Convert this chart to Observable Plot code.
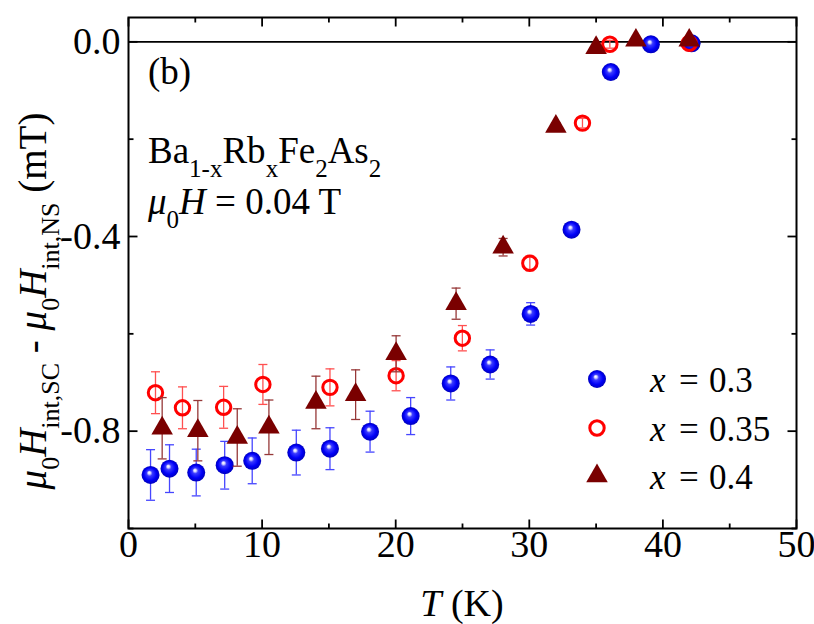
<!DOCTYPE html>
<html><head><meta charset="utf-8">
<script src="https://cdn.jsdelivr.net/npm/d3@7"></script>
<script src="https://cdn.jsdelivr.net/npm/@observablehq/plot@0.6"></script>
<style>body{margin:0;background:#fff} svg{display:block} text{white-space:pre}</style>
</head><body><div id="chart"></div>
<script>
// x = 0.3 (blue spheres)
const T03 = [1.65, 3.07, 5.07, 7.2, 9.26, 12.56, 15.08, 18.08, 21.12, 24.12, 27.07, 30.1, 33.16, 36.1, 39.1, 42.15];
const V03 = [-0.890, -0.877, -0.885, -0.870, -0.861, -0.844, -0.836, -0.801, -0.769, -0.702, -0.663, -0.559, -0.386, -0.062, -0.005, -0.003];
const E03 = [0.052, 0.049, 0.048, 0.049, 0.047, 0.046, 0.043, 0.042, 0.038, 0.034, 0.030, 0.023, 0.009, 0.007, 0.005, 0.005];
// x = 0.35 (red open circles)
const T035 = [2.02, 4.04, 7.12, 10.06, 15.08, 20.03, 24.99, 30.04, 33.98, 36.03, 41.97];
const V035 = [-0.721, -0.752, -0.751, -0.704, -0.710, -0.686, -0.609, -0.455, -0.167, -0.005, -0.003];
const E035 = [0.043, 0.043, 0.043, 0.041, 0.038, 0.031, 0.026, 0.015, 0.010, 0.008, 0.004];
// x = 0.4 (dark red triangles)
const T04 = [2.52, 5.19, 8.14, 10.51, 14.03, 17.0, 20.03, 24.52, 28.04, 31.99, 35.0, 37.98, 41.97];
const V04 = [-0.794, -0.799, -0.813, -0.792, -0.741, -0.725, -0.641, -0.538, -0.422, -0.174, -0.012, 0.003, 0.003];
const E04 = [0.063, 0.062, 0.059, 0.056, 0.054, 0.051, 0.037, 0.032, 0.018, 0.008, 0.006, 0.005, 0.005];

const seriesLabels = ["0.3", "0.35", "0.4"];
const xMajor = [0, 10, 20, 30, 40, 50];
const xTickLabels = ["0", "10", "20", "30", "40", "50"];
const xMinor = [5, 15, 25, 35, 45];
const yMajor = [0, -0.4, -0.8];
const yTickLabels = ["0.0", "-0.4", "-0.8"];
const yMinor = [-0.2, -0.6, -1.0];

const rows = (T, V, E) => T.map((t, i) => ({t, v: V[i], lo: V[i] - E[i], hi: V[i] + E[i]}));
const s03 = rows(T03, V03, E03), s035 = rows(T035, V035, E035), s04 = rows(T04, V04, E04);

const seg = (x1, y1, x2, y2) => ({draw(c) { c.moveTo(x1, y1); c.lineTo(x2, y2); }});
const cap = seg(-4.5, 0, 4.5, 0);
const font = "'Liberation Serif', 'Times New Roman', serif";

function errs(data, color) {
  return [
    Plot.ruleX(data, {x: "t", y1: "lo", y2: "hi", stroke: color, strokeWidth: 1.3}),
    Plot.dot(data, {x: "t", y: "lo", symbol: cap, fill: "none", stroke: color, strokeWidth: 1.3}),
    Plot.dot(data, {x: "t", y: "hi", symbol: cap, fill: "none", stroke: color, strokeWidth: 1.3})
  ];
}
function ticks(vals, axis, anchor, len) {
  const s = anchor === "bottom" ? seg(0, 0, 0, -len) : anchor === "top" ? seg(0, 0, 0, len)
          : anchor === "left" ? seg(0, 0, len, 0) : seg(0, 0, -len, 0);
  const o = {symbol: s, fill: "none", stroke: "black", strokeWidth: 1.8, frameAnchor: anchor};
  if (axis === "x") o.x = d => d; else o.y = d => d;
  return Plot.dot(vals, o);
}

const chart = Plot.plot({
  width: 814, height: 624,
  marginLeft: 128, marginRight: 18, marginTop: 17, marginBottom: 96,
  style: {fontFamily: font, background: "white"},
  x: {domain: [0, 50], axis: null},
  y: {domain: [-1.0, 0.05], axis: null},
  marks: [
    Plot.ruleY([0], {stroke: "black", strokeWidth: 1.6}),
    ...errs(s03, "#4646ff"),
    Plot.dot(s03, {x: "t", y: "v", r: 9, fill: "url(#sphere)", stroke: "none"}),
    ...errs(s035, "#ff5050"),
    Plot.dot(s035, {x: "t", y: "v", r: 7.2, fill: "none", stroke: "#ff0000", strokeWidth: 3}),
    ...errs(s04, "#963838"),
    Plot.dot(s04, {x: "t", y: "v", r: 8, symbol: "triangle", fill: "#7a0000", stroke: "none"}),
    Plot.frame({stroke: "black", strokeWidth: 2}),
    ticks(xMajor, "x", "bottom", 9), ticks(xMinor, "x", "bottom", 5),
    ticks(xMajor, "x", "top", 9), ticks(xMinor, "x", "top", 5),
    ticks(yMajor, "y", "left", 9), ticks(yMinor, "y", "left", 5),
    ticks(yMajor, "y", "right", 9), ticks(yMinor, "y", "right", 5),
    Plot.text(xMajor, {x: d => d, text: (d, i) => xTickLabels[i], frameAnchor: "bottom", dy: 28, fontSize: 38, fill: "black"}),
    Plot.text(yMajor, {y: d => d, text: (d, i) => yTickLabels[i], frameAnchor: "left", textAnchor: "end", dx: -8, fontSize: 38, fill: "black"})
  ]
});
document.getElementById("chart").appendChild(chart);

const svg = d3.select(chart);
const grad = svg.insert("defs", ":first-child").append("radialGradient")
  .attr("id", "sphere").attr("cx", "0.5").attr("cy", "0.5").attr("r", "0.5").attr("fx", "0.42").attr("fy", "0.36");
[["0%", "#ffffff"], ["14%", "#d8d8ff"], ["32%", "#3a3aff"], ["70%", "#0000f8"], ["100%", "#0000bc"]]
  .forEach(([o, c]) => grad.append("stop").attr("offset", o).attr("stop-color", c));

function rich(x, y, size, parts, opts = {}) {
  const t = svg.append("text").attr("x", x).attr("y", y).attr("font-size", size)
    .attr("font-family", font).attr("fill", "black").attr("text-anchor", opts.anchor || "start");
  if (opts.transform) t.attr("transform", opts.transform);
  let shift = 0;
  parts.forEach(p => {
    const [str, kind] = p;
    const ts = t.append("tspan").text(str);
    const target = kind === "sub" || kind === "isub" ? opts.sub || 12 : 0;
    if (target !== shift) { ts.attr("dy", target - shift); shift = target; }
    if (kind === "sub" || kind === "isub") ts.attr("font-size", opts.subSize || size * 0.66);
    if (kind === "i" || kind === "isub") ts.attr("font-style", "italic");
  });
  return t;
}

// Y axis label
rich(0, 0, 39, [["μ", "i"], ["0", "sub"], ["H", "i"], ["int,SC", "sub"], [" - ", ""], ["μ", "i"], ["0", "sub"], ["H", "i"], ["int,NS", "sub"], [" (mT)", ""]],
  {anchor: "middle", transform: "translate(46,301) rotate(-90)", sub: 13, subSize: 26});
// X axis label
rich(462, 616, 38, [["T", "i"], [" (K)", ""]], {anchor: "middle"});
// annotations
rich(148, 84, 37, [["(b)", ""]]);
rich(148, 163, 37, [["Ba", ""], ["1-x", "sub"], ["Rb", ""], ["x", "sub"], ["Fe", ""], ["2", "sub"], ["As", ""], ["2", "sub"]], {sub: 14, subSize: 25});
rich(148, 214, 37, [["μ", "i"], ["0", "sub"], ["H", "i"], [" = 0.04 T", ""]], {sub: 14, subSize: 25});

// legend
const lg = [[597, 379], [597, 428], [597, 476]];
svg.append("circle").attr("cx", lg[0][0]).attr("cy", lg[0][1]).attr("r", 9).attr("fill", "url(#sphere)");
svg.append("circle").attr("cx", lg[1][0]).attr("cy", lg[1][1]).attr("r", 7.2).attr("fill", "none").attr("stroke", "#ff0000").attr("stroke-width", 3);
svg.append("path").attr("transform", `translate(${lg[2][0]},${lg[2][1]})`)
  .attr("d", d3.symbol(d3.symbolTriangle, 8 * 8 * Math.PI)()).attr("fill", "#7a0000");
lg.forEach(([x, y], i) => {
  const t = svg.append("text").attr("y", y + 13).attr("font-size", 35).attr("font-family", font).attr("text-anchor", "start");
  t.append("tspan").attr("x", x + 53).attr("font-style", "italic").text("x");
  t.append("tspan").attr("x", x + 82).text("=");
  t.append("tspan").attr("x", x + 112).text(seriesLabels[i]);
});
</script>
</body></html>
